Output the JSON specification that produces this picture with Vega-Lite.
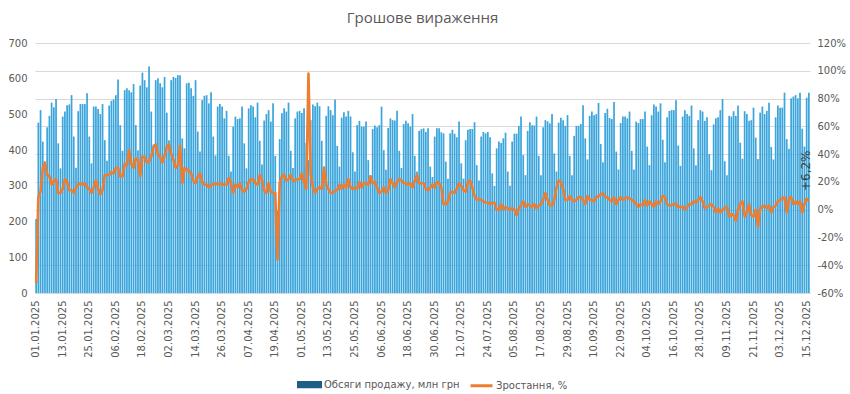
{
"$schema":"https://vega.github.io/schema/vega-lite/v6.json",
"width":775,"height":250,
"autosize":{"type":"none"},
"padding":{"left":35,"top":43,"right":40,"bottom":101},
"background":"white",
"title":{"text":"Грошове вираження","font":"Open Sans","fontSize":15,"fontWeight":"normal","color":"#595959","offset":12},
"data":{"values":[
{"date":"01.01.2025","v":207,"g":-53},{"date":"02.01.2025","v":477,"g":9},{"date":"03.01.2025","v":512,"g":13},{"date":"04.01.2025","v":424,"g":30},{"date":"05.01.2025","v":352,"g":34},{"date":"06.01.2025","v":464,"g":25},{"date":"07.01.2025","v":496,"g":24},{"date":"08.01.2025","v":533,"g":18},{"date":"09.01.2025","v":520,"g":21},{"date":"10.01.2025","v":543,"g":22},{"date":"11.01.2025","v":419,"g":12},{"date":"12.01.2025","v":349,"g":12},{"date":"13.01.2025","v":494,"g":15},{"date":"14.01.2025","v":508,"g":22},{"date":"15.01.2025","v":526,"g":20},{"date":"16.01.2025","v":528,"g":14},{"date":"17.01.2025","v":554,"g":14},{"date":"18.01.2025","v":438,"g":12},{"date":"19.01.2025","v":351,"g":16},{"date":"20.01.2025","v":509,"g":18},{"date":"21.01.2025","v":529,"g":19},{"date":"22.01.2025","v":529,"g":18},{"date":"23.01.2025","v":529,"g":19},{"date":"24.01.2025","v":559,"g":16},{"date":"25.01.2025","v":438,"g":15},{"date":"26.01.2025","v":363,"g":12},{"date":"27.01.2025","v":522,"g":16},{"date":"28.01.2025","v":522,"g":21},{"date":"29.01.2025","v":515,"g":15},{"date":"30.01.2025","v":501,"g":11},{"date":"31.01.2025","v":529,"g":14},
{"date":"01.02.2025","v":428,"g":25},{"date":"02.02.2025","v":370,"g":25},{"date":"03.02.2025","v":525,"g":25},{"date":"04.02.2025","v":538,"g":27},{"date":"05.02.2025","v":542,"g":26},{"date":"06.02.2025","v":554,"g":30},{"date":"07.02.2025","v":598,"g":30},{"date":"08.02.2025","v":470,"g":24},{"date":"09.02.2025","v":398,"g":24},{"date":"10.02.2025","v":568,"g":33},{"date":"11.02.2025","v":573,"g":32},{"date":"12.02.2025","v":568,"g":43},{"date":"13.02.2025","v":562,"g":33},{"date":"14.02.2025","v":585,"g":30},{"date":"15.02.2025","v":470,"g":37},{"date":"16.02.2025","v":400,"g":36},{"date":"17.02.2025","v":581,"g":24},{"date":"18.02.2025","v":617,"g":38},{"date":"19.02.2025","v":596,"g":38},{"date":"20.02.2025","v":576,"g":34},{"date":"21.02.2025","v":634,"g":35},{"date":"22.02.2025","v":508,"g":38},{"date":"23.02.2025","v":416,"g":45},{"date":"24.02.2025","v":596,"g":47},{"date":"25.02.2025","v":601,"g":40},{"date":"26.02.2025","v":587,"g":38},{"date":"27.02.2025","v":576,"g":34},{"date":"28.02.2025","v":605,"g":39},
{"date":"01.03.2025","v":505,"g":45},{"date":"02.03.2025","v":428,"g":47},{"date":"03.03.2025","v":596,"g":40},{"date":"04.03.2025","v":605,"g":36},{"date":"05.03.2025","v":602,"g":30},{"date":"06.03.2025","v":610,"g":32},{"date":"07.03.2025","v":610,"g":46},{"date":"08.03.2025","v":433,"g":19},{"date":"09.03.2025","v":405,"g":30},{"date":"10.03.2025","v":587,"g":29},{"date":"11.03.2025","v":589,"g":28},{"date":"12.03.2025","v":573,"g":26},{"date":"13.03.2025","v":552,"g":21},{"date":"14.03.2025","v":596,"g":19},{"date":"15.03.2025","v":452,"g":24},{"date":"16.03.2025","v":396,"g":26},{"date":"17.03.2025","v":540,"g":20},{"date":"18.03.2025","v":552,"g":18},{"date":"19.03.2025","v":554,"g":18},{"date":"20.03.2025","v":531,"g":16},{"date":"21.03.2025","v":562,"g":18},{"date":"22.03.2025","v":438,"g":18},{"date":"23.03.2025","v":385,"g":19},{"date":"24.03.2025","v":522,"g":18},{"date":"25.03.2025","v":529,"g":19},{"date":"26.03.2025","v":522,"g":18},{"date":"27.03.2025","v":489,"g":18},{"date":"28.03.2025","v":510,"g":18},{"date":"29.03.2025","v":384,"g":23},{"date":"30.03.2025","v":340,"g":19},{"date":"31.03.2025","v":466,"g":12},
{"date":"01.04.2025","v":494,"g":18},{"date":"02.04.2025","v":487,"g":16},{"date":"03.04.2025","v":489,"g":19},{"date":"04.04.2025","v":522,"g":14},{"date":"05.04.2025","v":419,"g":13},{"date":"06.04.2025","v":349,"g":15},{"date":"07.04.2025","v":517,"g":20},{"date":"08.04.2025","v":526,"g":22},{"date":"09.04.2025","v":522,"g":22},{"date":"10.04.2025","v":492,"g":19},{"date":"11.04.2025","v":533,"g":18},{"date":"12.04.2025","v":426,"g":25},{"date":"13.04.2025","v":360,"g":21},{"date":"14.04.2025","v":483,"g":14},{"date":"15.04.2025","v":501,"g":12},{"date":"16.04.2025","v":512,"g":19},{"date":"17.04.2025","v":480,"g":13},{"date":"18.04.2025","v":531,"g":12},{"date":"19.04.2025","v":384,"g":12},{"date":"20.04.2025","v":230,"g":-36},{"date":"21.04.2025","v":431,"g":19},{"date":"22.04.2025","v":503,"g":24},{"date":"23.04.2025","v":517,"g":25},{"date":"24.04.2025","v":508,"g":21},{"date":"25.04.2025","v":533,"g":22},{"date":"26.04.2025","v":398,"g":25},{"date":"27.04.2025","v":350,"g":21},{"date":"28.04.2025","v":489,"g":21},{"date":"29.04.2025","v":508,"g":22},{"date":"30.04.2025","v":510,"g":22},
{"date":"01.05.2025","v":504,"g":26},{"date":"02.05.2025","v":517,"g":20},{"date":"03.05.2025","v":420,"g":15},{"date":"04.05.2025","v":372,"g":98},{"date":"05.05.2025","v":484,"g":26},{"date":"06.05.2025","v":528,"g":16},{"date":"07.05.2025","v":523,"g":12},{"date":"08.05.2025","v":533,"g":15},{"date":"09.05.2025","v":523,"g":16},{"date":"10.05.2025","v":426,"g":15},{"date":"11.05.2025","v":355,"g":30},{"date":"12.05.2025","v":496,"g":18},{"date":"13.05.2025","v":523,"g":15},{"date":"14.05.2025","v":512,"g":12},{"date":"15.05.2025","v":498,"g":12},{"date":"16.05.2025","v":542,"g":14},{"date":"17.05.2025","v":412,"g":14},{"date":"18.05.2025","v":354,"g":18},{"date":"19.05.2025","v":491,"g":15},{"date":"20.05.2025","v":506,"g":18},{"date":"21.05.2025","v":494,"g":16},{"date":"22.05.2025","v":510,"g":22},{"date":"23.05.2025","v":494,"g":16},{"date":"24.05.2025","v":394,"g":15},{"date":"25.05.2025","v":340,"g":16},{"date":"26.05.2025","v":470,"g":15},{"date":"27.05.2025","v":482,"g":20},{"date":"28.05.2025","v":466,"g":16},{"date":"29.05.2025","v":466,"g":19},{"date":"30.05.2025","v":480,"g":19},{"date":"31.05.2025","v":372,"g":18},
{"date":"01.06.2025","v":330,"g":24},{"date":"02.06.2025","v":459,"g":19},{"date":"03.06.2025","v":469,"g":20},{"date":"04.06.2025","v":464,"g":16},{"date":"05.06.2025","v":470,"g":12},{"date":"06.06.2025","v":522,"g":13},{"date":"07.06.2025","v":400,"g":16},{"date":"08.06.2025","v":345,"g":12},{"date":"09.06.2025","v":462,"g":14},{"date":"10.06.2025","v":489,"g":22},{"date":"11.06.2025","v":484,"g":19},{"date":"12.06.2025","v":483,"g":16},{"date":"13.06.2025","v":510,"g":20},{"date":"14.06.2025","v":398,"g":22},{"date":"15.06.2025","v":350,"g":21},{"date":"16.06.2025","v":473,"g":19},{"date":"17.06.2025","v":482,"g":19},{"date":"18.06.2025","v":475,"g":18},{"date":"19.06.2025","v":466,"g":19},{"date":"20.06.2025","v":501,"g":16},{"date":"21.06.2025","v":384,"g":21},{"date":"22.06.2025","v":340,"g":25},{"date":"23.06.2025","v":454,"g":19},{"date":"24.06.2025","v":459,"g":19},{"date":"25.06.2025","v":461,"g":19},{"date":"26.06.2025","v":451,"g":15},{"date":"27.06.2025","v":461,"g":14},{"date":"28.06.2025","v":354,"g":16},{"date":"29.06.2025","v":325,"g":18},{"date":"30.06.2025","v":438,"g":16},
{"date":"01.07.2025","v":461,"g":20},{"date":"02.07.2025","v":461,"g":19},{"date":"03.07.2025","v":450,"g":16},{"date":"04.07.2025","v":447,"g":4},{"date":"05.07.2025","v":368,"g":4},{"date":"06.07.2025","v":320,"g":6},{"date":"07.07.2025","v":447,"g":12},{"date":"08.07.2025","v":457,"g":13},{"date":"09.07.2025","v":446,"g":12},{"date":"10.07.2025","v":436,"g":15},{"date":"11.07.2025","v":480,"g":19},{"date":"12.07.2025","v":363,"g":17},{"date":"13.07.2025","v":320,"g":14},{"date":"14.07.2025","v":428,"g":13},{"date":"15.07.2025","v":457,"g":20},{"date":"16.07.2025","v":459,"g":21},{"date":"17.07.2025","v":459,"g":16},{"date":"18.07.2025","v":478,"g":10},{"date":"19.07.2025","v":358,"g":7},{"date":"20.07.2025","v":315,"g":8},{"date":"21.07.2025","v":438,"g":7},{"date":"22.07.2025","v":451,"g":6},{"date":"23.07.2025","v":447,"g":5},{"date":"24.07.2025","v":451,"g":5},{"date":"25.07.2025","v":436,"g":4},{"date":"26.07.2025","v":335,"g":5},{"date":"27.07.2025","v":300,"g":5},{"date":"28.07.2025","v":405,"g":0},{"date":"29.07.2025","v":424,"g":0},{"date":"30.07.2025","v":420,"g":4},{"date":"31.07.2025","v":433,"g":0},
{"date":"01.08.2025","v":449,"g":2},{"date":"02.08.2025","v":340,"g":1},{"date":"03.08.2025","v":300,"g":0},{"date":"04.08.2025","v":424,"g":1},{"date":"05.08.2025","v":446,"g":0},{"date":"06.08.2025","v":446,"g":-4},{"date":"07.08.2025","v":468,"g":1},{"date":"08.08.2025","v":494,"g":3},{"date":"09.08.2025","v":386,"g":6},{"date":"10.08.2025","v":330,"g":2},{"date":"11.08.2025","v":454,"g":4},{"date":"12.08.2025","v":478,"g":3},{"date":"13.08.2025","v":470,"g":2},{"date":"14.08.2025","v":469,"g":4},{"date":"15.08.2025","v":494,"g":1},{"date":"16.08.2025","v":384,"g":3},{"date":"17.08.2025","v":330,"g":4},{"date":"18.08.2025","v":464,"g":7},{"date":"19.08.2025","v":484,"g":12},{"date":"20.08.2025","v":481,"g":7},{"date":"21.08.2025","v":475,"g":3},{"date":"22.08.2025","v":501,"g":3},{"date":"23.08.2025","v":391,"g":7},{"date":"24.08.2025","v":340,"g":16},{"date":"25.08.2025","v":477,"g":21},{"date":"26.08.2025","v":491,"g":20},{"date":"27.08.2025","v":484,"g":15},{"date":"28.08.2025","v":468,"g":7},{"date":"29.08.2025","v":498,"g":7},{"date":"30.08.2025","v":384,"g":10},{"date":"31.08.2025","v":330,"g":7},
{"date":"01.09.2025","v":440,"g":6},{"date":"02.09.2025","v":468,"g":7},{"date":"03.09.2025","v":468,"g":9},{"date":"04.09.2025","v":473,"g":9},{"date":"05.09.2025","v":526,"g":7},{"date":"06.09.2025","v":433,"g":4},{"date":"07.09.2025","v":374,"g":10},{"date":"08.09.2025","v":496,"g":7},{"date":"09.09.2025","v":508,"g":7},{"date":"10.09.2025","v":498,"g":6},{"date":"11.09.2025","v":501,"g":9},{"date":"12.09.2025","v":532,"g":10},{"date":"13.09.2025","v":417,"g":11},{"date":"14.09.2025","v":366,"g":12},{"date":"15.09.2025","v":504,"g":9},{"date":"16.09.2025","v":516,"g":9},{"date":"17.09.2025","v":490,"g":7},{"date":"18.09.2025","v":487,"g":6},{"date":"19.09.2025","v":535,"g":9},{"date":"20.09.2025","v":396,"g":4},{"date":"21.09.2025","v":346,"g":7},{"date":"22.09.2025","v":476,"g":9},{"date":"23.09.2025","v":494,"g":7},{"date":"24.09.2025","v":494,"g":8},{"date":"25.09.2025","v":489,"g":9},{"date":"26.09.2025","v":508,"g":8},{"date":"27.09.2025","v":398,"g":7},{"date":"28.09.2025","v":346,"g":6},{"date":"29.09.2025","v":480,"g":4},{"date":"30.09.2025","v":476,"g":2},
{"date":"01.10.2025","v":487,"g":4},{"date":"02.10.2025","v":487,"g":3},{"date":"03.10.2025","v":508,"g":7},{"date":"04.10.2025","v":410,"g":3},{"date":"05.10.2025","v":358,"g":6},{"date":"06.10.2025","v":498,"g":4},{"date":"07.10.2025","v":528,"g":2},{"date":"08.10.2025","v":522,"g":6},{"date":"09.10.2025","v":508,"g":4},{"date":"10.10.2025","v":531,"g":6},{"date":"11.10.2025","v":429,"g":10},{"date":"12.10.2025","v":366,"g":9},{"date":"13.10.2025","v":492,"g":4},{"date":"14.10.2025","v":510,"g":3},{"date":"15.10.2025","v":512,"g":3},{"date":"16.10.2025","v":512,"g":4},{"date":"17.10.2025","v":540,"g":4},{"date":"18.10.2025","v":413,"g":2},{"date":"19.10.2025","v":356,"g":2},{"date":"20.10.2025","v":494,"g":2},{"date":"21.10.2025","v":512,"g":0},{"date":"22.10.2025","v":501,"g":2},{"date":"23.10.2025","v":496,"g":4},{"date":"24.10.2025","v":525,"g":4},{"date":"25.10.2025","v":405,"g":6},{"date":"26.10.2025","v":358,"g":5},{"date":"27.10.2025","v":484,"g":7},{"date":"28.10.2025","v":512,"g":9},{"date":"29.10.2025","v":508,"g":6},{"date":"30.10.2025","v":482,"g":1},{"date":"31.10.2025","v":492,"g":2},
{"date":"01.11.2025","v":389,"g":3},{"date":"02.11.2025","v":344,"g":4},{"date":"03.11.2025","v":472,"g":2},{"date":"04.11.2025","v":489,"g":-2},{"date":"05.11.2025","v":492,"g":1},{"date":"06.11.2025","v":512,"g":-2},{"date":"07.11.2025","v":543,"g":0},{"date":"08.11.2025","v":369,"g":1},{"date":"09.11.2025","v":330,"g":2},{"date":"10.11.2025","v":496,"g":-5},{"date":"11.11.2025","v":494,"g":-3},{"date":"12.11.2025","v":509,"g":-4},{"date":"13.11.2025","v":496,"g":-8},{"date":"14.11.2025","v":525,"g":0},{"date":"15.11.2025","v":421,"g":4},{"date":"16.11.2025","v":376,"g":6},{"date":"17.11.2025","v":509,"g":-5},{"date":"18.11.2025","v":501,"g":-2},{"date":"19.11.2025","v":482,"g":4},{"date":"20.11.2025","v":484,"g":-4},{"date":"21.11.2025","v":519,"g":-5},{"date":"22.11.2025","v":435,"g":0},{"date":"23.11.2025","v":375,"g":-12},{"date":"24.11.2025","v":505,"g":1},{"date":"25.11.2025","v":522,"g":2},{"date":"26.11.2025","v":501,"g":3},{"date":"27.11.2025","v":510,"g":1},{"date":"28.11.2025","v":533,"g":3},{"date":"29.11.2025","v":409,"g":-2},{"date":"30.11.2025","v":374,"g":2},
{"date":"01.12.2025","v":492,"g":3},{"date":"02.12.2025","v":525,"g":6},{"date":"03.12.2025","v":519,"g":7},{"date":"04.12.2025","v":519,"g":8},{"date":"05.12.2025","v":561,"g":9},{"date":"06.12.2025","v":431,"g":-2},{"date":"07.12.2025","v":404,"g":8},{"date":"08.12.2025","v":545,"g":9},{"date":"09.12.2025","v":550,"g":4},{"date":"10.12.2025","v":554,"g":6},{"date":"11.12.2025","v":545,"g":4},{"date":"12.12.2025","v":561,"g":6},{"date":"13.12.2025","v":460,"g":-2},{"date":"14.12.2025","v":410,"g":4},{"date":"15.12.2025","v":547,"g":8},{"date":"16.12.2025","v":561,"g":6.2}
]},
"encoding":{
 "x":{"field":"date","type":"ordinal","sort":null,
  "scale":{"paddingInner":0.22,"paddingOuter":0.12},
  "axis":{"title":null,"values":["01.01.2025","13.01.2025","25.01.2025","06.02.2025","18.02.2025","02.03.2025","14.03.2025","26.03.2025","07.04.2025","19.04.2025","01.05.2025","13.05.2025","25.05.2025","06.06.2025","18.06.2025","30.06.2025","12.07.2025","24.07.2025","05.08.2025","17.08.2025","29.08.2025","10.09.2025","22.09.2025","04.10.2025","16.10.2025","28.10.2025","09.11.2025","21.11.2025","03.12.2025","15.12.2025"],
   "labelAngle":-90,"ticks":false,"labelPadding":7,"labelFont":"DejaVu Sans","labelFontSize":10,"labelColor":"#595959","domainColor":"#d9d9d9","grid":false}}
},
"layer":[
 {"mark":{"type":"bar","fill":"#3ba5dc"},
  "encoding":{
   "y":{"field":"v","type":"quantitative","scale":{"domain":[0,700]},
    "axis":{"orient":"left","title":null,"values":[0,100,200,300,400,500,600,700],"grid":false,"ticks":false,"domain":false,"labelPadding":8,"labelFont":"DejaVu Sans","labelFontSize":10,"labelColor":"#595959"}},
   "color":{"datum":"Обсяги продажу, млн грн","type":"nominal",
    "scale":{"domain":["Обсяги продажу, млн грн","Зростання, %"],"range":["#1f5f87","#ed7d31"]},
    "legend":{"orient":"none","legendX":262,"legendY":329,"direction":"horizontal","title":null,"labelFont":"DejaVu Sans","labelFontSize":10,"labelColor":"#595959","symbolSize":484,"labelOffset":2,"columnPadding":4,
     "encode":{"symbols":{"update":{
      "shape":{"signal":"datum.value === 'Зростання, %' ? 'M-1,0H1' : 'M-1,-0.2H1V0.2H-1Z'"},
      "strokeWidth":{"value":3},"opacity":{"value":1}}}}}}
  }},
 {"mark":{"type":"line","strokeWidth":2.6,"strokeJoin":"round"},
  "encoding":{
   "y":{"field":"g","type":"quantitative","scale":{"domain":[-60,120]},
    "axis":{"orient":"right","title":null,"values":[-60,-40,-20,0,20,40,60,80,100,120],"labelExpr":"datum.value + '%'","grid":true,"gridColor":"#d9d9d9","ticks":false,"domain":false,"labelPadding":7,"labelFont":"DejaVu Sans","labelFontSize":10,"labelColor":"#595959"}},
   "color":{"datum":"Зростання, %","type":"nominal"}
  }},
 {"transform":[{"filter":"datum.date === '16.12.2025'"}],
  "mark":{"type":"text","angle":270,"align":"left","baseline":"middle","dx":10,"dy":-3,"font":"DejaVu Sans","fontSize":12,"color":"#404040"},
  "encoding":{
   "y":{"field":"g","type":"quantitative","scale":{"domain":[-60,120]},"axis":null},
   "text":{"value":"+6,2%"}
  }}
],
"resolve":{"scale":{"y":"independent"}},
"config":{"view":{"stroke":null}}
}
